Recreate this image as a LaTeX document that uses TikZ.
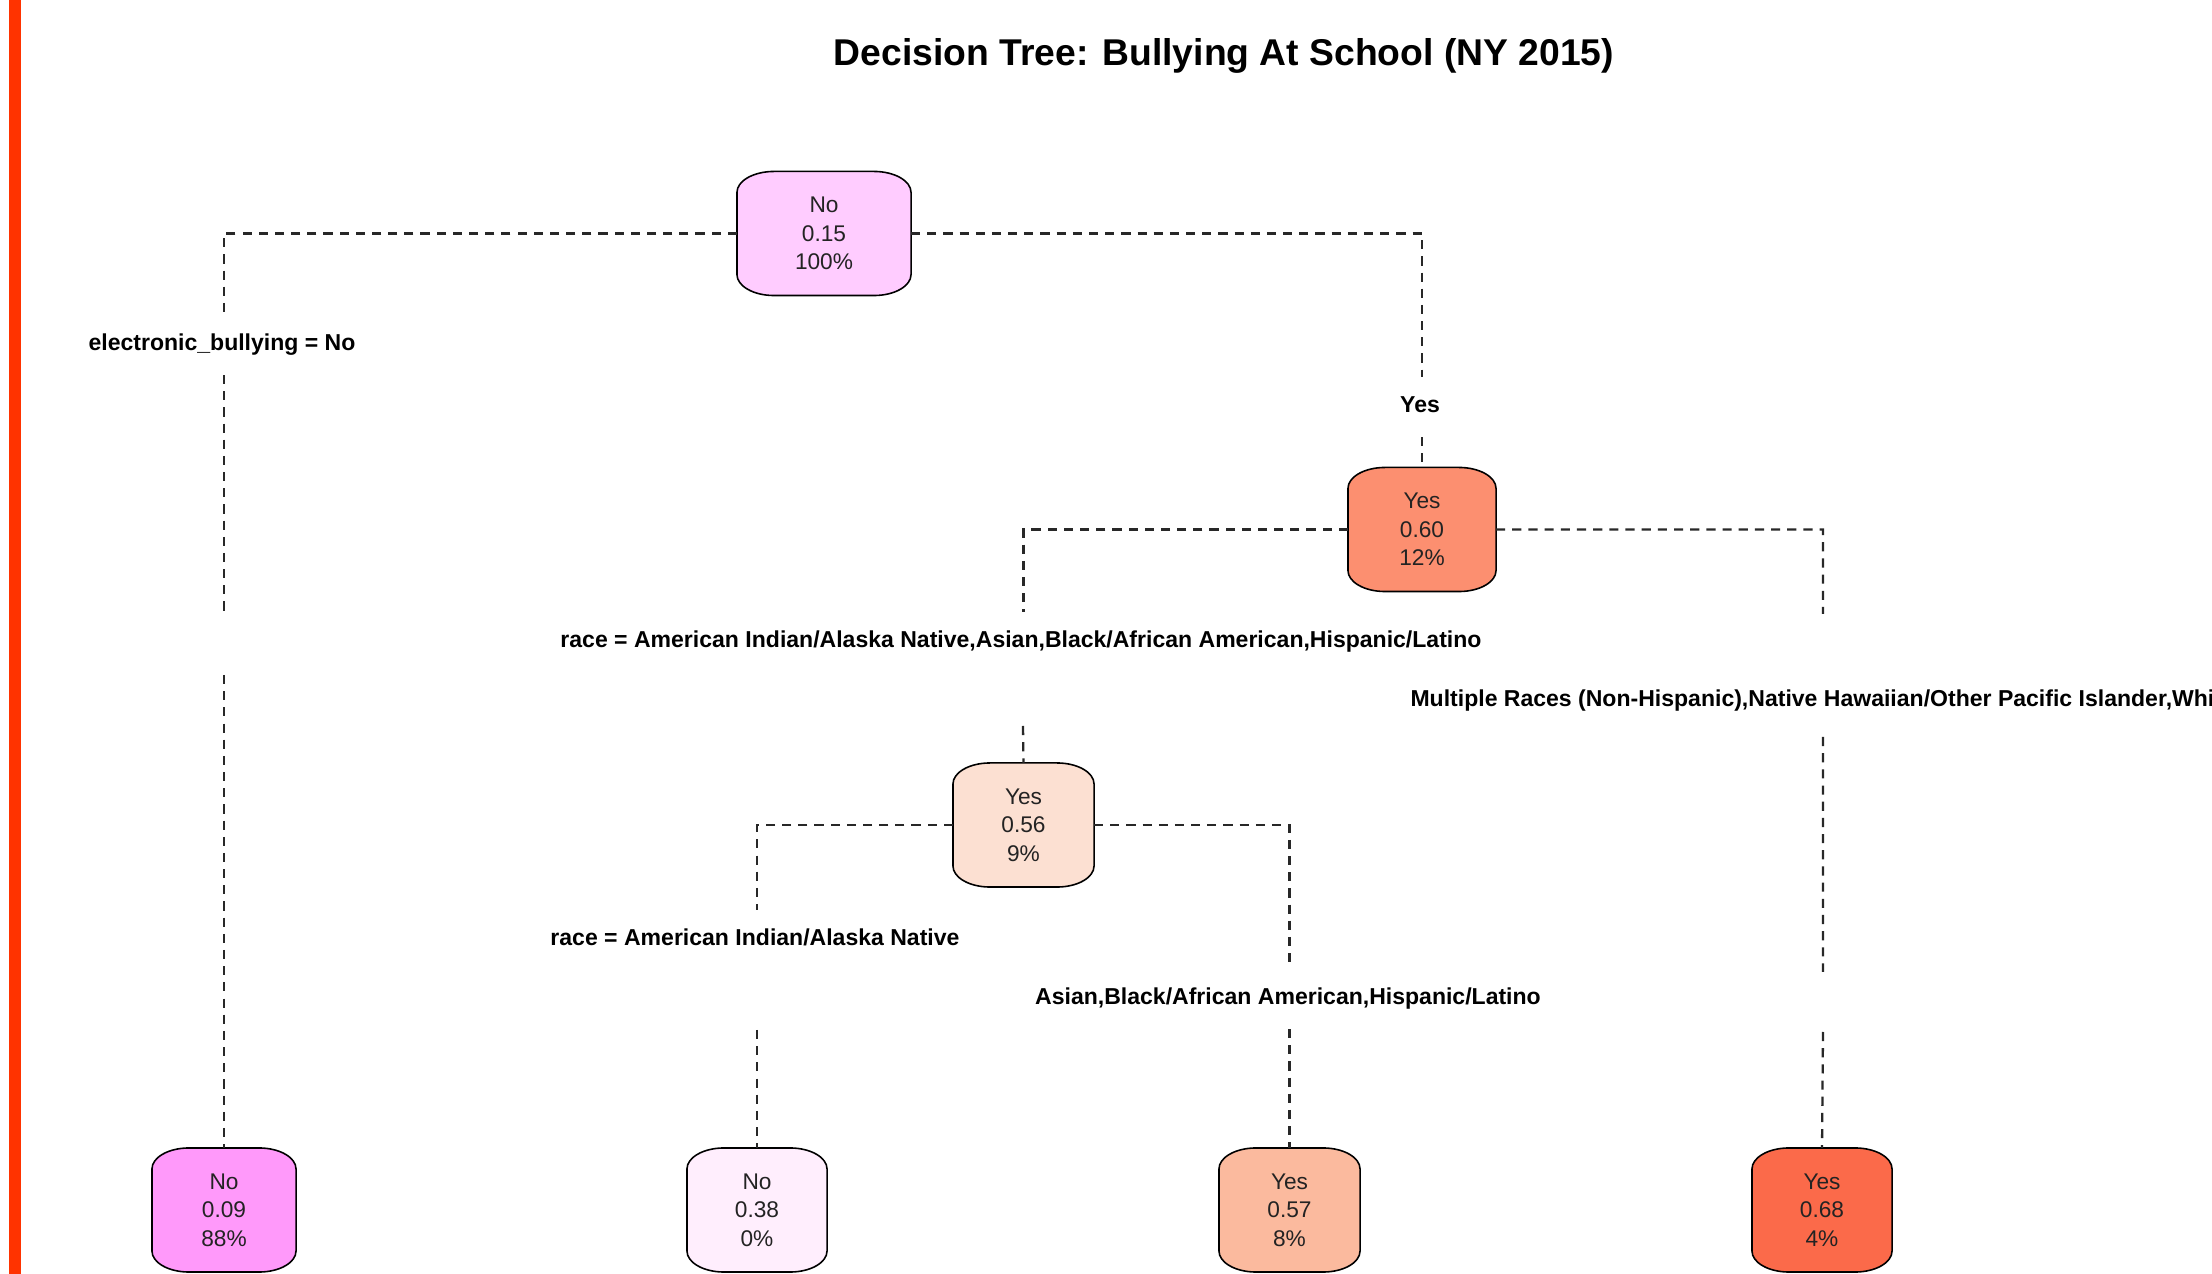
\documentclass[tikz,border=0pt]{standalone}
\usepackage{fontspec}
\setmainfont{Liberation Sans}
\usepackage{tikz}
\usetikzlibrary{backgrounds}
\usepackage{xcolor}
\definecolor{barorange}{RGB}{255, 51, 0}
\definecolor{branchgray}{RGB}{40, 40, 40}
\definecolor{nodetext}{RGB}{35, 35, 35}
\definecolor{rootpink}{RGB}{255, 204, 255}
\definecolor{leafmagenta}{RGB}{255, 153, 250}
\definecolor{leafpale}{RGB}{255, 238, 253}
\definecolor{splitsalmon}{RGB}{252, 143, 112}
\definecolor{splitpeach}{RGB}{252, 224, 210}
\definecolor{leafpeach}{RGB}{251, 186, 158}
\definecolor{leafred}{RGB}{251, 106, 74}
\newcommand{\barrel}[2]{%
  \draw[black, line width=0.45pt, fill=#2] ([yshift=-0.21cm]#1.north west) -- ([yshift=0.21cm]#1.south west)
    arc[start angle=180, end angle=270, x radius=0.37cm, y radius=0.21cm]
    -- ([xshift=-0.37cm]#1.south east)
    arc[start angle=270, end angle=360, x radius=0.37cm, y radius=0.21cm]
    -- ([yshift=-0.21cm]#1.north east)
    arc[start angle=0, end angle=90, x radius=0.37cm, y radius=0.21cm]
    -- ([xshift=0.37cm]#1.north west)
    arc[start angle=90, end angle=180, x radius=0.37cm, y radius=0.21cm] -- cycle;}

\begin{document}
\begin{tikzpicture}[x=0.01cm, y=-0.01cm,
  treenode/.style={minimum height=1.24cm, inner sep=0pt, outer sep=0pt, align=center,
    text=nodetext, font=\fontsize{6.45}{8.1}\selectfont},
  splitlabel/.style={font=\bfseries\fontsize{6.55}{7.5}\selectfont, text=black,
    inner xsep=1pt, inner ysep=0.195cm, text height=0.16cm, text depth=0.05cm, outer sep=0pt},
  branch/.style={branchgray, line width=0.65pt, dash pattern=on 2.6pt off 2pt}]

  \useasboundingbox (0,0) rectangle (2212,1274);
  \begin{scope}
  \clip (0,0) rectangle (2212,1274);

  % red bar at the left edge
  \fill[barorange] (9,0) rectangle (21,1274);

  % title
  \node[font=\bfseries\fontsize{10.6}{12}\selectfont] (title) at (1224,56) {Decision Tree: Bullying At School (NY 2015)};

  % tree nodes
  \node[treenode, minimum width=1.74cm] (root) at (824,233.5) {No\\0.15\\100\%};
  \node[treenode, minimum width=1.48cm] (split1) at (1422,529.5) {Yes\\0.60\\12\%};
  \node[treenode, minimum width=1.41cm] (split2) at (1023.5,825) {Yes\\0.56\\9\%};
  \node[treenode, minimum width=1.44cm] (leaf1) at (224,1210) {No\\0.09\\88\%};
  \node[treenode, minimum width=1.40cm] (leaf2) at (757,1210) {No\\0.38\\0\%};
  \node[treenode, minimum width=1.41cm] (leaf3) at (1289.5,1210) {Yes\\0.57\\8\%};
  \node[treenode, minimum width=1.40cm] (leaf4) at (1822,1210) {Yes\\0.68\\4\%};

  % split labels
  \node[splitlabel] (ebully) at (222,345) {electronic\_bullying = No};
  \node[splitlabel] (yes) at (1420,407) {Yes};
  \node[splitlabel] (raceA) at (1021,642) {race = American Indian/Alaska Native,Asian,Black/African American,Hispanic/Latino};
  \node[splitlabel, anchor=west] (multi) at (1407,701) {Multiple Races (Non-Hispanic),Native Hawaiian/Other Pacific Islander,Whi};
  \node[splitlabel] (raceB) at (755,940) {race = American Indian/Alaska Native};
  \node[splitlabel] (asian) at (1288,999) {Asian,Black/African American,Hispanic/Latino};

  % gaps in the branch lines
  \coordinate (gapA0) at (224,233.5);
  \coordinate (gapA1) at (224,615);
  \coordinate (gapA2) at (224,675);
  \coordinate (gapB) at (1023,726);
  \coordinate (gapC1) at (1823,614);
  \coordinate (gapC2) at (1823,737);
  \coordinate (gapC3) at (1823,972);
  \coordinate (gapC4) at (1823,1032);
  \coordinate (gapD) at (757,1030);

  % branches
  \draw[branch] (root.west) -- (gapA0) -- (gapA0 |- ebully.north);
  \draw[branch] (gapA0 |- ebully.south) -- (gapA1) (gapA2) -- (leaf1.north);
  \draw[branch] (root.east) -| (split1.north |- yes.north);
  \draw[branch] (split1.north |- yes.south) -- (split1.north);
  \draw[branch] (split1.west) -| (split2.north |- raceA.north);
  \draw[branch] (gapB) -- (split2.north);
  \draw[branch] (split1.east) -| (gapC1) (gapC2) -- (gapC3) (gapC4) -- (leaf4.north);
  \draw[branch] (split2.west) -| (leaf2.north |- raceB.north);
  \draw[branch] (gapD) -- (leaf2.north);
  \draw[branch] (split2.east) -| (leaf3.north |- asian.north);
  \draw[branch] (leaf3.north |- asian.south) -- (leaf3.north);
  \end{scope}

  % node shapes behind the text
  \begin{scope}[on background layer]
    \fill[white] (0,0) rectangle (2212,1274);
    \foreach \n/\c in {root/rootpink, split1/splitsalmon, split2/splitpeach, leaf1/leafmagenta,
      leaf2/leafpale, leaf3/leafpeach, leaf4/leafred}
      \barrel{\n}{\c};
  \end{scope}

\end{tikzpicture}
\end{document}
